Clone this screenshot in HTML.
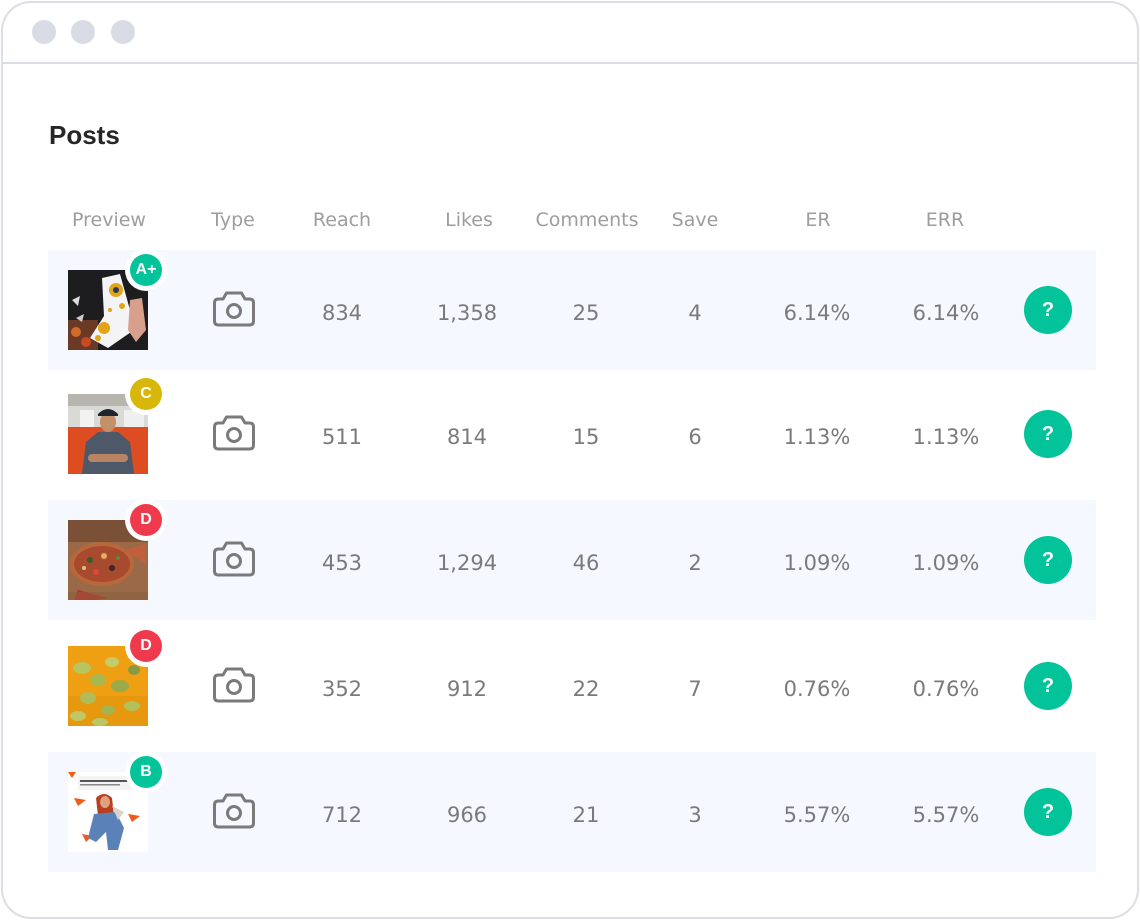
<!DOCTYPE html>
<html><head><meta charset="utf-8">
<style>
*{margin:0;padding:0;box-sizing:border-box}
html,body{width:1140px;height:920px;background:#fff;overflow:hidden}
body{position:relative;font-family:"Liberation Sans",Arial,sans-serif}
.frame{position:absolute;left:1px;top:1px;width:1138px;height:918px;border:2px solid #dcdee5;border-radius:30px;background:#fff}
.div{position:absolute;left:1px;top:62px;width:1138px;height:2px;background:#dcdee5}
.dot{position:absolute;width:24px;height:24px;border-radius:50%;background:#d9dce5;top:20px}
.title{position:absolute;left:49px;top:122px;font-size:26px;line-height:26px;font-weight:bold;color:#262626}
.h{position:absolute;top:210px;width:200px;text-align:center;font-family:"DejaVu Sans",sans-serif;font-size:19px;line-height:21px;color:#9d9d9d}
.band{position:absolute;left:48px;width:1048px;height:120px;background:#f5f8fe}
.n{position:absolute;width:200px;text-align:center;font-family:"DejaVu Sans",sans-serif;font-size:21px;line-height:22px;color:#7a7a7a}
.thumb{position:absolute;left:68px;width:80px;height:80px;overflow:hidden}
.badge{position:absolute;width:42px;height:42px;border-radius:50%;background:#fff;left:125px}
.badge span{position:absolute;left:5px;top:5px;width:32px;height:32px;border-radius:50%;color:#fff;font-weight:bold;font-size:16px;line-height:32px;text-align:center}
.q{position:absolute;left:1024px;width:48px;height:48px;border-radius:50%;background:#02c39a;color:#fff;font-weight:bold;font-size:20px;line-height:48px;text-align:center}
.cam{position:absolute;left:213px}
</style></head><body>
<div class="frame"></div>
<div class="div"></div>
<div class="dot" style="left:32px"></div>
<div class="dot" style="left:71px"></div>
<div class="dot" style="left:111px"></div>
<div class="title">Posts</div>

<div class="h" style="left:9px">Preview</div>
<div class="h" style="left:133px">Type</div>
<div class="h" style="left:242px">Reach</div>
<div class="h" style="left:369px">Likes</div>
<div class="h" style="left:487px">Comments</div>
<div class="h" style="left:595px">Save</div>
<div class="h" style="left:718px">ER</div>
<div class="h" style="left:845px">ERR</div>

<div class="band" style="top:250px"></div>
<div class="band" style="top:500px"></div>
<div class="band" style="top:752px"></div>

<!-- Row 1 -->
<div class="thumb" style="top:270px">
<svg width="80" height="80" viewBox="0 0 80 80">
<rect width="80" height="80" fill="#1d1d1f"/>
<rect x="0" y="50" width="30" height="30" fill="#6b3a26"/>
<circle cx="8" cy="62" r="5" fill="#d26a2a"/><circle cx="18" cy="72" r="5" fill="#c94a20"/>
<path d="M4 30 L12 26 L10 36 Z" fill="#ddd"/><path d="M8 48 L16 44 L14 52 Z" fill="#ccc"/>
<path d="M34 8 L52 4 L62 40 L66 60 L40 78 L22 68 L36 46 Z" fill="#f4f4f6"/>
<circle cx="48" cy="20" r="7" fill="#e3a417"/><circle cx="48" cy="20" r="3" fill="#2a3a55"/>
<circle cx="36" cy="58" r="6" fill="#e3a417"/><circle cx="54" cy="36" r="3" fill="#e3a417"/>
<circle cx="42" cy="40" r="2" fill="#e3a417"/><circle cx="30" cy="68" r="3" fill="#e3a417"/>
<path d="M62 30 L74 28 L78 60 L68 72 L60 60 Z" fill="#d8a08c"/>
</svg></div>
<div class="badge" style="top:249px"><span style="background:#02c39a">A+</span></div>
<svg class="cam" style="top:291px" width="42" height="36" viewBox="0 0 42 36"><path d="M5.5 8 H10 L13.5 2 H28.5 L32 8 H36.5 Q40.5 8 40.5 12 V30 Q40.5 34 36.5 34 H5.5 Q1.5 34 1.5 30 V12 Q1.5 8 5.5 8 Z" fill="none" stroke="#7a7a7a" stroke-width="3" stroke-linejoin="round"/><circle cx="21" cy="20" r="6.5" fill="none" stroke="#7a7a7a" stroke-width="3"/></svg>
<div class="n" style="left:242px;top:302px">834</div>
<div class="n" style="left:367px;top:302px">1,358</div>
<div class="n" style="left:486px;top:302px">25</div>
<div class="n" style="left:595px;top:302px">4</div>
<div class="n" style="left:717px;top:302px">6.14%</div>
<div class="n" style="left:846px;top:302px">6.14%</div>
<div class="q" style="top:286px">?</div>

<!-- Row 2 -->
<div class="thumb" style="top:394px">
<svg width="80" height="80" viewBox="0 0 80 80">
<rect width="80" height="80" fill="#d9d9d6"/>
<rect x="0" y="0" width="80" height="12" fill="#b8b4ae"/>
<rect x="12" y="16" width="14" height="18" fill="#f2f2f0"/><rect x="56" y="16" width="20" height="18" fill="#eef0f0"/>
<rect x="0" y="33" width="80" height="47" fill="#de4d22"/>
<path d="M14 80 L18 48 L30 38 L50 38 L62 48 L66 80 Z" fill="#4d5868"/>
<ellipse cx="40" cy="28" rx="8" ry="10" fill="#c4906a"/>
<path d="M30 20 Q40 10 50 20 L50 22 L30 22 Z" fill="#22252b"/>
<rect x="20" y="60" width="40" height="8" rx="4" fill="#b88464"/>
</svg></div>
<div class="badge" style="top:373px"><span style="background:#d8b70b">C</span></div>
<svg class="cam" style="top:415px" width="42" height="36" viewBox="0 0 42 36"><path d="M5.5 8 H10 L13.5 2 H28.5 L32 8 H36.5 Q40.5 8 40.5 12 V30 Q40.5 34 36.5 34 H5.5 Q1.5 34 1.5 30 V12 Q1.5 8 5.5 8 Z" fill="none" stroke="#7a7a7a" stroke-width="3" stroke-linejoin="round"/><circle cx="21" cy="20" r="6.5" fill="none" stroke="#7a7a7a" stroke-width="3"/></svg>
<div class="n" style="left:242px;top:426px">511</div>
<div class="n" style="left:367px;top:426px">814</div>
<div class="n" style="left:486px;top:426px">15</div>
<div class="n" style="left:595px;top:426px">6</div>
<div class="n" style="left:717px;top:426px">1.13%</div>
<div class="n" style="left:846px;top:426px">1.13%</div>
<div class="q" style="top:410px">?</div>

<!-- Row 3 -->
<div class="thumb" style="top:520px">
<svg width="80" height="80" viewBox="0 0 80 80">
<rect width="80" height="80" fill="#9a6a48"/>
<rect x="0" y="0" width="80" height="22" fill="#7a5036"/>
<ellipse cx="34" cy="44" rx="32" ry="22" fill="#b8683a"/>
<ellipse cx="34" cy="44" rx="28" ry="18" fill="#a84a2e"/>
<circle cx="22" cy="40" r="3" fill="#3d5a2a"/><circle cx="36" cy="36" r="3" fill="#e0b060"/><circle cx="44" cy="48" r="3" fill="#3d2a22"/>
<circle cx="28" cy="52" r="3" fill="#d84a3a"/><circle cx="50" cy="38" r="2" fill="#5a8a3a"/><circle cx="16" cy="48" r="2" fill="#e0c080"/>
<path d="M56 30 L78 24 L78 44 Z" fill="#c0603a"/>
<path d="M10 70 L40 78 L30 80 L6 80 Z" fill="#c62828"/>
<rect x="0" y="72" width="80" height="8" fill="#8a6040" opacity="0.6"/>
</svg></div>
<div class="badge" style="top:499px"><span style="background:#ee3a4c">D</span></div>
<svg class="cam" style="top:541px" width="42" height="36" viewBox="0 0 42 36"><path d="M5.5 8 H10 L13.5 2 H28.5 L32 8 H36.5 Q40.5 8 40.5 12 V30 Q40.5 34 36.5 34 H5.5 Q1.5 34 1.5 30 V12 Q1.5 8 5.5 8 Z" fill="none" stroke="#7a7a7a" stroke-width="3" stroke-linejoin="round"/><circle cx="21" cy="20" r="6.5" fill="none" stroke="#7a7a7a" stroke-width="3"/></svg>
<div class="n" style="left:242px;top:552px">453</div>
<div class="n" style="left:367px;top:552px">1,294</div>
<div class="n" style="left:486px;top:552px">46</div>
<div class="n" style="left:595px;top:552px">2</div>
<div class="n" style="left:717px;top:552px">1.09%</div>
<div class="n" style="left:846px;top:552px">1.09%</div>
<div class="q" style="top:536px">?</div>

<!-- Row 4 -->
<div class="thumb" style="top:646px">
<svg width="80" height="80" viewBox="0 0 80 80">
<rect width="80" height="80" fill="#eea012"/>
<rect x="0" y="50" width="80" height="30" fill="#e6980e"/>
<ellipse cx="14" cy="22" rx="9" ry="6" fill="#b9c45e"/><ellipse cx="30" cy="34" rx="8" ry="6" fill="#a8b850"/>
<ellipse cx="44" cy="16" rx="7" ry="5" fill="#c5cc6a"/><ellipse cx="52" cy="40" rx="9" ry="6" fill="#9aaa48"/>
<ellipse cx="20" cy="52" rx="8" ry="6" fill="#b0bc58"/><ellipse cx="10" cy="70" rx="8" ry="5" fill="#c0c866"/>
<ellipse cx="40" cy="64" rx="7" ry="5" fill="#a6b24e"/><ellipse cx="64" cy="60" rx="8" ry="5" fill="#b4c05c"/>
<ellipse cx="66" cy="24" rx="6" ry="5" fill="#8a9a40"/><ellipse cx="32" cy="76" rx="8" ry="4" fill="#bcc662"/>
</svg></div>
<div class="badge" style="top:625px"><span style="background:#ee3a4c">D</span></div>
<svg class="cam" style="top:667px" width="42" height="36" viewBox="0 0 42 36"><path d="M5.5 8 H10 L13.5 2 H28.5 L32 8 H36.5 Q40.5 8 40.5 12 V30 Q40.5 34 36.5 34 H5.5 Q1.5 34 1.5 30 V12 Q1.5 8 5.5 8 Z" fill="none" stroke="#7a7a7a" stroke-width="3" stroke-linejoin="round"/><circle cx="21" cy="20" r="6.5" fill="none" stroke="#7a7a7a" stroke-width="3"/></svg>
<div class="n" style="left:242px;top:678px">352</div>
<div class="n" style="left:367px;top:678px">912</div>
<div class="n" style="left:486px;top:678px">22</div>
<div class="n" style="left:595px;top:678px">7</div>
<div class="n" style="left:717px;top:678px">0.76%</div>
<div class="n" style="left:846px;top:678px">0.76%</div>
<div class="q" style="top:662px">?</div>

<!-- Row 5 -->
<div class="thumb" style="top:772px">
<svg width="80" height="80" viewBox="0 0 80 80">
<rect width="80" height="80" fill="#ffffff"/>
<rect x="10" y="4" width="58" height="14" fill="#f4f4f4"/>
<rect x="12" y="8" width="50" height="2" fill="#555"/><rect x="12" y="12" width="40" height="1.5" fill="#888"/>
<path d="M0 0 L8 0 L4 6 Z" fill="#f05a1a"/>
<path d="M6 26 L18 28 L10 34 Z" fill="#f05a1a"/><path d="M60 42 L72 44 L64 50 Z" fill="#f05a1a"/>
<path d="M14 62 L24 64 L18 70 Z" fill="#f05a1a"/>
<path d="M28 26 Q36 18 44 26 L46 44 L30 44 Z" fill="#b8401e"/>
<ellipse cx="37" cy="30" rx="5" ry="6" fill="#e0a080"/>
<path d="M26 42 L48 40 L56 56 L50 78 L40 78 L38 60 L28 70 L20 66 Z" fill="#5a82b8"/>
<path d="M44 34 L56 40 L50 48 Z" fill="#d8d4cc"/>
</svg></div>
<div class="badge" style="top:751px"><span style="background:#02c39a">B</span></div>
<svg class="cam" style="top:793px" width="42" height="36" viewBox="0 0 42 36"><path d="M5.5 8 H10 L13.5 2 H28.5 L32 8 H36.5 Q40.5 8 40.5 12 V30 Q40.5 34 36.5 34 H5.5 Q1.5 34 1.5 30 V12 Q1.5 8 5.5 8 Z" fill="none" stroke="#7a7a7a" stroke-width="3" stroke-linejoin="round"/><circle cx="21" cy="20" r="6.5" fill="none" stroke="#7a7a7a" stroke-width="3"/></svg>
<div class="n" style="left:242px;top:804px">712</div>
<div class="n" style="left:367px;top:804px">966</div>
<div class="n" style="left:486px;top:804px">21</div>
<div class="n" style="left:595px;top:804px">3</div>
<div class="n" style="left:717px;top:804px">5.57%</div>
<div class="n" style="left:846px;top:804px">5.57%</div>
<div class="q" style="top:788px">?</div>
</body></html>
